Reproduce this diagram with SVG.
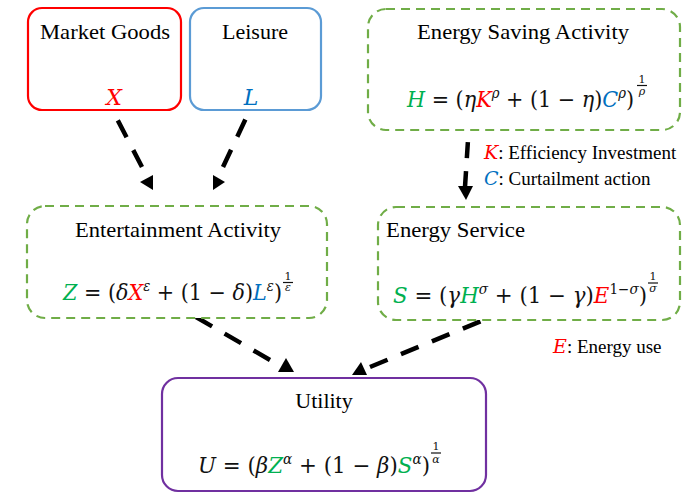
<svg xmlns="http://www.w3.org/2000/svg" width="687" height="493" viewBox="0 0 687 493">
<defs>
<style>
.t{font-family:"Liberation Serif",Tinos,"Noto Serif","DejaVu Serif",serif;font-size:22px;fill:#000}
.s{font-family:"Liberation Serif",Tinos,"Noto Serif","DejaVu Serif",serif;font-size:19px;fill:#000}
.m{font-family:"DejaVu Serif","Liberation Serif",serif;font-size:22px;fill:#111}
.i{font-style:italic}
.g{fill:#00B050}.r{fill:#FF0000}.b{fill:#0070C0}
.sup{font-size:14px}
.fr{font-family:"DejaVu Serif","Liberation Serif",serif;font-size:11px;fill:#111}
.dash{fill:#fff;stroke:#70AD47;stroke-width:2.2;stroke-dasharray:9 6}
.conn{stroke:#000;stroke-width:4.5;stroke-dasharray:19 14.5;fill:none}
.head{fill:#000}
.fl{stroke:#111;stroke-width:1.2}
</style>
</defs>
<rect width="687" height="493" fill="#fff"/>

<g id="connectors">
<path class="conn" d="M142,167 L115,115"/>
<polygon class="head" points="140,182 153,175 153,190"/>
<path class="conn" d="M223,167 L247,116"/>
<polygon class="head" points="213,175 213,190 225,182"/>
<path class="conn" d="M465,187 L468,140" style="stroke-dasharray:16 13"/>
<polygon class="head" points="458,186 473,186 466,200"/>
<path class="conn" d="M270,360 L196,317"/>
<polygon class="head" points="278,372 294,372 286,358"/>
<path class="conn" d="M370,367 L486,319"/>
<polygon class="head" points="352,375 367,375 361,362"/>
</g>

<g id="market-goods">
<rect x="28" y="8" width="153" height="102" rx="14" fill="#fff" stroke="#FF0000" stroke-width="2.2"/>
<text class="t" x="105" y="39" text-anchor="middle" textLength="130" lengthAdjust="spacingAndGlyphs">Market Goods</text>
<text class="m i r" x="114" y="105" text-anchor="middle">X</text>
</g>

<g id="leisure">
<rect x="190" y="8" width="131" height="102" rx="14" fill="#fff" stroke="#5B9BD5" stroke-width="2.2"/>
<text class="t" x="255" y="39" text-anchor="middle">Leisure</text>
<text class="m i b" x="251" y="105" text-anchor="middle">L</text>
</g>

<g id="energy-saving">
<rect class="dash" x="368" y="9" width="312" height="121" rx="18"/>
<text class="t" x="523" y="39" text-anchor="middle" textLength="212" lengthAdjust="spacingAndGlyphs">Energy Saving Activity</text>
<text class="m" x="407" y="107" textLength="227" lengthAdjust="spacingAndGlyphs"><tspan class="i g">H</tspan> = (<tspan class="i">η</tspan><tspan class="i r">K</tspan><tspan class="i sup" dy="-9">ρ</tspan><tspan dy="9"> + (1 − </tspan><tspan class="i">η</tspan>)<tspan class="i b">C</tspan><tspan class="i sup" dy="-9">ρ</tspan><tspan dy="9">)</tspan></text>
<text class="fr" x="642" y="83" text-anchor="middle">1</text>
<line class="fl" x1="637" y1="85.5" x2="647" y2="85.5"/>
<text class="fr i" x="642" y="95" text-anchor="middle">ρ</text>
</g>

<g id="entertainment">
<rect class="dash" x="27" y="206" width="300" height="112" rx="18"/>
<text class="t" x="178" y="237" text-anchor="middle" textLength="206" lengthAdjust="spacingAndGlyphs">Entertainment Activity</text>
<text class="m" x="63" y="300" textLength="219" lengthAdjust="spacingAndGlyphs"><tspan class="i g">Z</tspan> = (<tspan class="i">δ</tspan><tspan class="i r">X</tspan><tspan class="i sup" dy="-9">ε</tspan><tspan dy="9"> + (1 − </tspan><tspan class="i">δ</tspan>)<tspan class="i b">L</tspan><tspan class="i sup" dy="-9">ε</tspan><tspan dy="9">)</tspan></text>
<text class="fr" x="288" y="280" text-anchor="middle">1</text>
<line class="fl" x1="283" y1="282.5" x2="293" y2="282.5"/>
<text class="fr i" x="288" y="291" text-anchor="middle">ε</text>
</g>

<g id="energy-service">
<rect class="dash" x="378" y="207" width="302" height="113" rx="18"/>
<text class="t" x="386" y="237" textLength="139" lengthAdjust="spacingAndGlyphs">Energy Service</text>
<text class="m" x="393" y="303" textLength="254" lengthAdjust="spacingAndGlyphs"><tspan class="i g">S</tspan> = (<tspan class="i">γ</tspan><tspan class="i g">H</tspan><tspan class="i sup" dy="-9">σ</tspan><tspan dy="9"> + (1 − </tspan><tspan class="i">γ</tspan>)<tspan class="i r">E</tspan><tspan class="sup" dy="-9">1−</tspan><tspan class="i sup">σ</tspan><tspan dy="9">)</tspan></text>
<text class="fr" x="653" y="280" text-anchor="middle">1</text>
<line class="fl" x1="648" y1="283" x2="658" y2="283"/>
<text class="fr i" x="653" y="292" text-anchor="middle">σ</text>
</g>

<g id="utility">
<rect x="162" y="378" width="324" height="113" rx="16" fill="#fff" stroke="#7030A0" stroke-width="2.2"/>
<text class="t" x="324" y="408" text-anchor="middle">Utility</text>
<text class="m" x="198" y="473" textLength="232" lengthAdjust="spacingAndGlyphs"><tspan class="i">U</tspan> = (<tspan class="i">β</tspan><tspan class="i g">Z</tspan><tspan class="i sup" dy="-9">α</tspan><tspan dy="9"> + (1 − </tspan><tspan class="i">β</tspan>)<tspan class="i g">S</tspan><tspan class="i sup" dy="-9">α</tspan><tspan dy="9">)</tspan></text>
<text class="fr" x="436" y="450" text-anchor="middle">1</text>
<line class="fl" x1="431" y1="453" x2="441" y2="453"/>
<text class="fr i" x="436" y="463" text-anchor="middle">α</text>
</g>

<g id="labels">
<text class="s" x="484" y="159"><tspan class="m i r" style="font-size:19px">K</tspan>: Efficiency Investment</text>
<text class="s" x="484" y="185"><tspan class="m i b" style="font-size:19px">C</tspan>: Curtailment action</text>
<text class="s" x="553" y="353"><tspan class="m i r" style="font-size:19px">E</tspan>: Energy use</text>
</g>
</svg>
